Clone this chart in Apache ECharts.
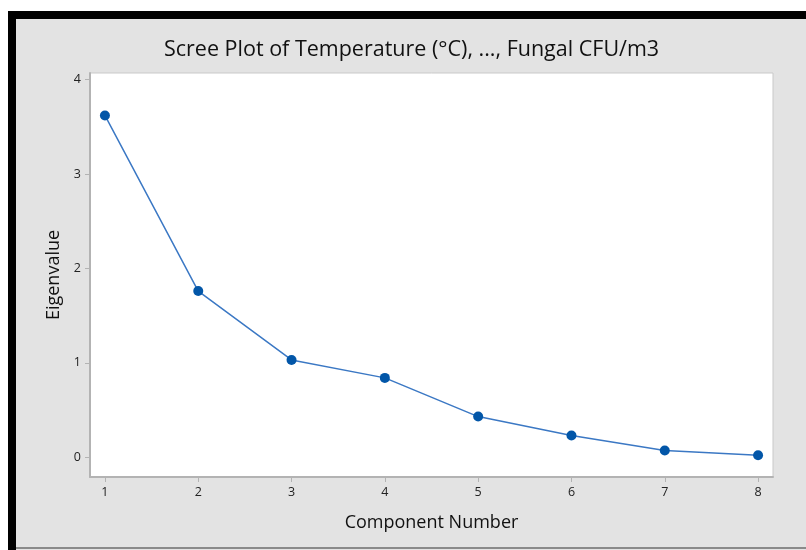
<!DOCTYPE html>
<html>
<head>
<meta charset="utf-8">
<script src="https://cdn.jsdelivr.net/npm/echarts@6/dist/echarts.min.js"></script>
<style>
  html, body { margin: 0; padding: 0; background: #fff; }
  #chart { width: 806px; height: 550px; }
</style>
</head>
<body>
<div id="chart"></div>
<script>
// component numbers and their eigenvalues
const components = [1, 2, 3, 4, 5, 6, 7, 8];
const eigenvalues = [3.62, 1.76, 1.03, 0.84, 0.43, 0.23, 0.07, 0.02];
const yTicks = [0, 1, 2, 3, 4];

const FONT = '"Open Sans", "Noto Sans", sans-serif';

const chart = echarts.init(document.getElementById('chart'), null, { renderer: 'canvas' });

const points = components.map((c, i) => [c, eigenvalues[i]]);

chart.setOption({
  backgroundColor: '#ffffff',
  animation: false,
  graphic: [
    // grey panel + black frame like the screenshot
    { type: 'rect', z: -10, shape: { x: 8, y: 11, width: 798, height: 539 }, style: { fill: '#e3e3e3' } },
    { type: 'rect', z: -9, shape: { x: 8, y: 11, width: 798, height: 8 }, style: { fill: '#000' } },
    { type: 'rect', z: -9, shape: { x: 8, y: 11, width: 8, height: 539 }, style: { fill: '#000' } },
    { type: 'rect', z: -9, shape: { x: 16, y: 547, width: 790, height: 2 }, style: { fill: '#8a8a8a' } }
  ],
  title: {
    text: 'Scree Plot of Temperature (°C), ..., Fungal CFU/m3',
    left: 159,
    top: 34,
    textStyle: { fontFamily: FONT, fontSize: 21.5, fontWeight: 'normal', color: '#111' }
  },
  grid: {
    left: 90, top: 73, right: 33, bottom: 73,
    show: true, backgroundColor: '#fff', borderColor: '#c9c9c9', borderWidth: 1
  },
  xAxis: {
    type: 'value',
    min: 0.84, max: 8.16,
    name: 'Component Number',
    nameLocation: 'middle',
    nameGap: 37,
    nameTextStyle: { fontFamily: FONT, fontSize: 18, color: '#111' },
    axisLine: { onZero: false, lineStyle: { color: '#b3b3b3', width: 2 } },
    axisTick: { show: true, length: 5, lineStyle: { color: '#b3b3b3' }, customValues: components },
    axisLabel: { customValues: components, fontFamily: FONT, fontSize: 12.5, color: '#222', margin: 9 },
    splitLine: { show: false }
  },
  yAxis: {
    type: 'value',
    min: -0.21, max: 4.07,
    name: 'Eigenvalue',
    nameLocation: 'middle',
    nameGap: 27,
    nameTextStyle: { fontFamily: FONT, fontSize: 18, color: '#111' },
    axisLine: { show: true, onZero: false, lineStyle: { color: '#b3b3b3', width: 2 } },
    axisTick: { show: true, length: 5, lineStyle: { color: '#b3b3b3' }, customValues: yTicks },
    axisLabel: { customValues: yTicks, fontFamily: FONT, fontSize: 12.5, color: '#222', margin: 9 },
    splitLine: { show: false }
  },
  series: [{
    type: 'line',
    data: points,
    symbol: 'circle',
    symbolSize: 10,
    itemStyle: { color: '#0256a8' },
    lineStyle: { color: '#3b78c4', width: 1.5 }
  }]
});
</script>
</body>
</html>
